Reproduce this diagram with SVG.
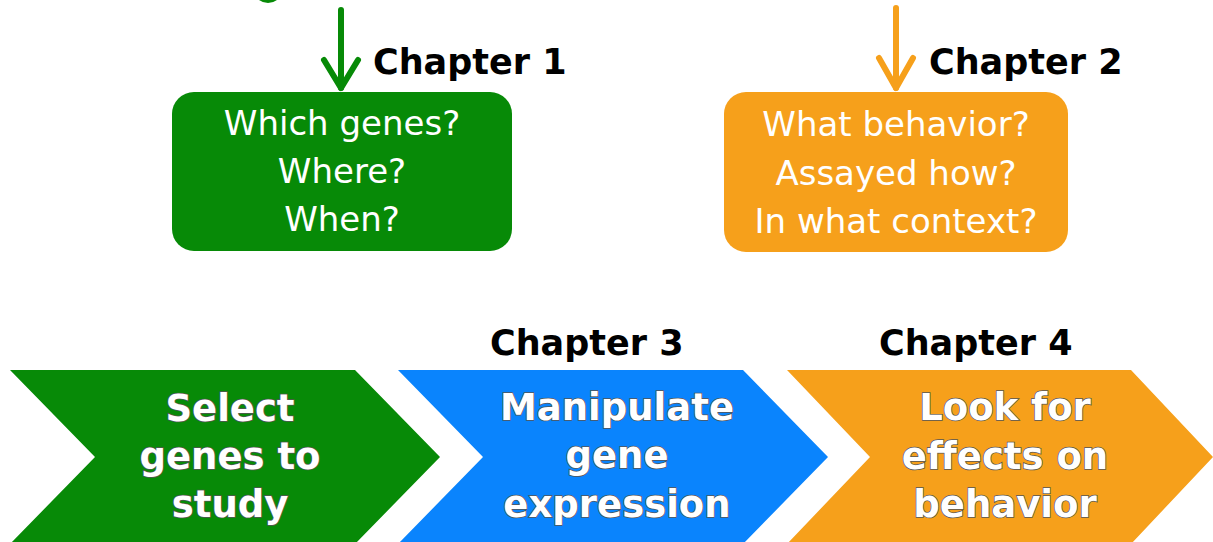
<svg xmlns="http://www.w3.org/2000/svg" width="1213" height="542" viewBox="0 0 1213 542">
<style>
.chap{font-family:"DejaVu Sans",sans-serif;font-weight:bold;font-size:35px;fill:#000}
.q{font-family:"DejaVu Sans",sans-serif;font-size:34px;fill:#fff;text-anchor:middle}
.cv{font-family:"DejaVu Sans",sans-serif;font-weight:bold;font-size:37px;fill:#fff;stroke:#555;stroke-width:1.5;paint-order:stroke;text-anchor:middle}
.g{fill:#078a07}.o{fill:#f6a01b}.b{fill:#0a84fd}
</style>
<rect width="1213" height="542" fill="#fff"/>
<g id="connectors" fill="none" stroke-width="6" stroke-linecap="round" stroke-linejoin="round">
<circle cx="268" cy="-12" r="15" fill="#078a07" stroke="none"/>
<g stroke="#078a07"><line x1="341" y1="10" x2="341" y2="88"/><polyline points="324,60 341,88 358,60"/></g>
<g stroke="#f6a01b"><line x1="896" y1="8" x2="896" y2="88"/><polyline points="879,58 896,88 913,58"/></g>
</g>
<g id="ch1"><text class="chap" x="373" y="74">Chapter 1</text></g>
<g id="ch2"><text class="chap" x="929" y="74">Chapter 2</text></g>
<g id="ch3"><text class="chap" x="490" y="355">Chapter 3</text></g>
<g id="ch4"><text class="chap" x="879" y="355">Chapter 4</text></g>
<g id="box1"><rect class="g" x="172" y="92" width="340" height="159" rx="22"/>
<text class="q" x="342" y="135">Which genes?</text><text class="q" x="342" y="183">Where?</text><text class="q" x="342" y="231">When?</text></g>
<g id="box2"><rect class="o" x="724" y="92" width="344" height="160" rx="22"/>
<text class="q" x="896" y="136">What behavior?</text><text class="q" x="896" y="185">Assayed how?</text><text class="q" x="896" y="233">In what context?</text></g>
<g id="step1"><polygon class="g" points="10,370 355,370 440,457 355,544 10,544 95,457"/>
<text class="cv" x="230" y="421">Select</text><text class="cv" x="230" y="469">genes to</text><text class="cv" x="230" y="517">study</text></g>
<g id="step2"><polygon class="b" points="398,370 743,370 828,457 743,544 398,544 483,457"/>
<text class="cv" x="617" y="420">Manipulate</text><text class="cv" x="617" y="468">gene</text><text class="cv" x="617" y="517">expression</text></g>
<g id="step3"><polygon class="o" points="787,370 1131,370 1213,457 1131,544 787,544 870,457"/>
<text class="cv" x="1005" y="420">Look for</text><text class="cv" x="1005" y="469">effects on</text><text class="cv" x="1005" y="517">behavior</text></g>
</svg>
